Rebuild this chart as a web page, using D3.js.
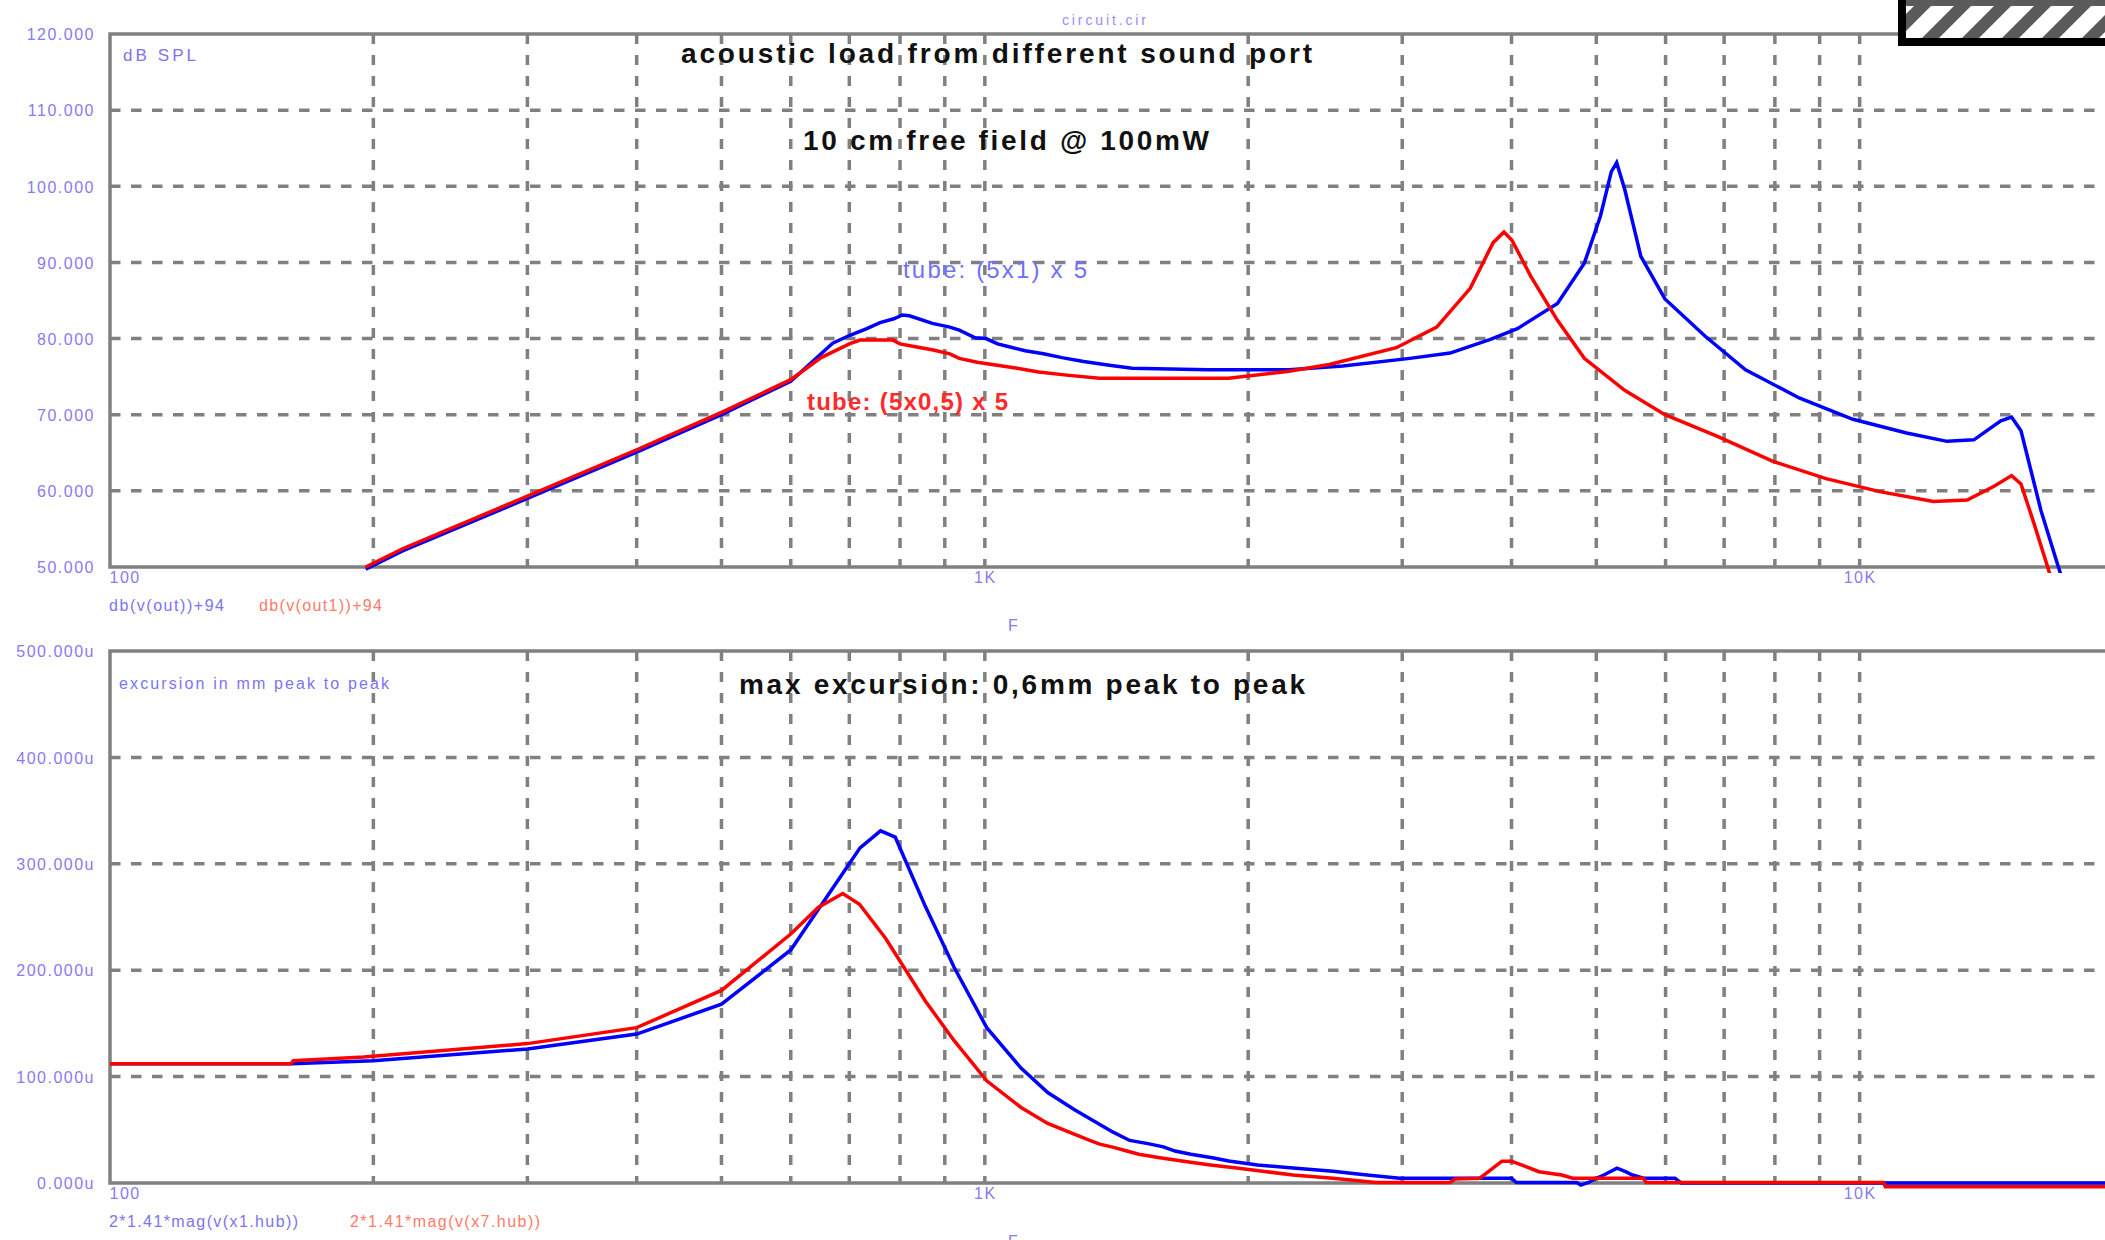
<!DOCTYPE html>
<html>
<head>
<meta charset="utf-8">
<script src="https://cdnjs.cloudflare.com/ajax/libs/d3/7.8.5/d3.min.js"></script>
<style>
body { margin: 0; background: #fff; }
svg { display: block; font-family: "Liberation Sans", Arial, sans-serif; }
</style>
</head>
<body>
<div id="chart"></div>
<script>
// frequency axis (shared)
var freqTicks = [100, 1000, 10000, 20000];
var freqTickLabels = ["100", "1K", "10K", "20K"];
var freqGrid = [200, 300, 400, 500, 600, 700, 800, 900, 1000, 2000, 3000, 4000, 5000, 6000, 7000, 8000, 9000, 10000];

// top plot: dB SPL
var splTicks = [50, 60, 70, 80, 90, 100, 110, 120];
// [Hz, dB]  tube (5x1) x 5
var splTube1 = [[196,49.7],[216,52.1],[300,59.0],[400,65.1],[500,70.0],[600,74.4],[670,79.4],[700,80.4],[733,81.3],[759,82.1],[787,82.6],[805,83.1],[820,83.0],[871,82.0],[912,81.5],[935,81.1],[975,80.1],[1003,80.0],[1034,79.3],[1077,78.8],[1112,78.4],[1167,78.0],[1225,77.5],[1297,77.0],[1388,76.5],[1473,76.1],[1800,75.9],[2227,75.9],[2565,76.4],[3061,77.4],[3403,78.1],[3784,79.9],[4062,81.3],[4514,84.6],[4845,89.9],[5055,96.1],[5201,101.9],[5275,103.1],[5388,99.6],[5622,90.8],[5990,85.2],[6660,80.3],[7405,75.9],[8529,72.2],[9824,69.4],[11315,67.6],[12584,66.5],[13507,66.7],[14500,69.2],[14916,69.7],[15290,67.9],[16117,57.4],[16872,50.0],[17200,47.0]];
// tube (5x0,5) x 5
var splTube05 = [[196,50.0],[216,52.4],[300,59.3],[400,65.4],[500,70.3],[600,74.6],[650,77.5],[700,79.3],[720,79.8],[785,79.8],[800,79.3],[836,78.9],[873,78.5],[912,78.0],[935,77.4],[980,76.9],[1033,76.5],[1089,76.1],[1152,75.6],[1240,75.2],[1352,74.8],[1473,74.8],[1899,74.8],[2227,75.7],[2476,76.6],[2954,78.8],[3285,81.5],[3588,86.6],[3811,92.6],[3921,94.0],[4005,92.9],[4207,88.2],[4514,82.4],[4845,77.4],[5388,73.2],[5990,70.0],[6900,67.1],[7947,63.9],[9154,61.6],[10544,59.9],[12145,58.6],[13270,58.8],[14244,60.6],[14916,62.0],[15290,60.9],[15835,55.6],[16403,50.0],[16700,47.0]];

// bottom plot: excursion (u)
var excTicks = [0, 100, 200, 300, 400, 500];
var excX1 = [[100,112],[161,112],[200,115],[300,126],[400,140],[500,168],[600,219],[670,277],[720,315],[760,331],[790,325],[855,260],[922,203],[1005,146],[1100,108],[1180,85],[1265,69],[1400,48],[1464,40],[1536,37],[1600,34],[1650,30],[1720,27],[1820,23.7],[1900,20.6],[2050,17],[2250,14],[2500,11],[2700,8],[2980,4.5],[3400,4.5],[4000,4.5],[4050,0.5],[4750,0.5],[4800,-2],[4900,0.5],[5000,4.5],[5100,7.5],[5280,14],[5400,10.6],[5500,7.5],[5660,4.5],[6150,4.5],[6250,0],[20000,0]];
var excX7 = [[100,112],[161,112],[162,115],[195,118.5],[300,131],[400,146],[500,181],[600,234],[645,259],[688,272],[719,262],[770,230],[855,171],[922,134],[1005,96],[1100,71],[1180,56],[1265,46],[1318,40],[1353,36.5],[1400,33.7],[1450,30.3],[1500,27],[1585,23.7],[1680,20.6],[1810,17],[1940,14],[2100,10.6],[2250,7.5],[2500,4.5],[2800,0.5],[3400,0.5],[3450,3.7],[3680,4.5],[3900,20.5],[4000,20.5],[4300,10.6],[4565,7.5],[4700,4.5],[5660,4.5],[5700,0.5],[10650,0.5],[10700,-3.5],[20000,-3.5]];

var W = 2105, H = 1240;
var gridColor = "#808080";
var tickColor = "#8a7af0";

var svg = d3.select("#chart").append("svg")
	.attr("width", W)
	.attr("height", H);

// hatch pattern for the box in the corner
var defs = svg.append("defs");
var pat = defs.append("pattern")
	.attr("id", "hatch")
	.attr("patternUnits", "userSpaceOnUse")
	.attr("width", 40).attr("height", 40);
pat.append("rect").attr("width", 40).attr("height", 40).attr("fill", "#fff");
pat.append("path")
	.attr("d", "M0,0L17,0L0,17Z M40,0L0,40L17,40L40,17Z")
	.attr("fill", "#5a5a5a");

var x = d3.scaleLog().domain([100, 20000]).range([110, 2123]);

function drawPlot(opts) {
	var y = d3.scaleLinear().domain(opts.domain).range([opts.bottom, opts.top]);
	var g = svg.append("g");

	defs.append("clipPath").attr("id", opts.id + "-clip")
		.append("rect")
		.attr("x", 108).attr("y", opts.top - 2)
		.attr("width", 2020).attr("height", opts.bottom - opts.top + 8);

	// horizontal grid
	g.append("g").selectAll("line")
		.data(opts.ticks.slice(1, -1))
		.enter().append("line")
		.attr("x1", 110).attr("x2", 2123)
		.attr("y1", function(d) { return y(d); })
		.attr("y2", function(d) { return y(d); })
		.attr("stroke", gridColor)
		.attr("stroke-width", 3.5)
		.attr("stroke-dasharray", "10.5,10.5");

	// vertical grid
	g.append("g").selectAll("line")
		.data(freqGrid)
		.enter().append("line")
		.attr("x1", function(d) { return x(d); })
		.attr("x2", function(d) { return x(d); })
		.attr("y1", opts.top).attr("y2", opts.bottom)
		.attr("stroke", gridColor)
		.attr("stroke-width", 3.5)
		.attr("stroke-dasharray", "10,11");

	// frame: top, left, bottom
	g.append("path")
		.attr("d", "M2123," + opts.top + "H110V" + opts.bottom + "H2123")
		.attr("fill", "none")
		.attr("stroke", gridColor)
		.attr("stroke-width", 3.5);

	// y axis labels
	var yAxis = g.append("g")
		.attr("transform", "translate(98,0)")
		.call(d3.axisLeft(y).tickValues(opts.ticks).tickSize(0).tickPadding(3)
			.tickFormat(function(d) { return d3.format(".3f")(d) + opts.suffix; }));
	yAxis.select(".domain").remove();
	yAxis.selectAll("text")
		.attr("fill", tickColor)
		.style("font-size", "16px")
		.style("letter-spacing", "1.5px")
		.attr("dy", "0.36em");

	// x axis labels
	var xAxis = g.append("g")
		.attr("transform", "translate(0," + opts.bottom + ")")
		.call(d3.axisBottom(x).tickValues(freqTicks).tickSize(0).tickPadding(5)
			.tickFormat(function(d, i) { return freqTickLabels[i]; }));
	xAxis.select(".domain").remove();
	xAxis.selectAll("text")
		.attr("fill", tickColor)
		.style("font-size", "16px")
		.style("letter-spacing", "1.5px")
		.filter(function(d) { return d === 100; })
		.attr("text-anchor", "start")
		.attr("x", -1);

	// curves
	var line = d3.line()
		.x(function(d) { return x(d[0]); })
		.y(function(d) { return y(d[1]); });

	var curves = g.append("g").attr("clip-path", "url(#" + opts.id + "-clip)");
	opts.series.forEach(function(s) {
		curves.append("path")
			.datum(s.data)
			.attr("d", line)
			.attr("fill", "none")
			.attr("stroke", s.color)
			.attr("stroke-width", 3.5)
			.attr("stroke-linejoin", "miter");
	});

	// legend under the axis
	opts.series.forEach(function(s) {
		g.append("text")
			.attr("x", s.legendX).attr("y", opts.bottom + 44)
			.attr("fill", s.legendColor)
			.attr("textLength", s.legendLen)
			.attr("lengthAdjust", "spacing")
			.style("font-size", "16px")
			.text(s.legend);
	});

	g.append("text")
		.attr("x", 1013).attr("y", opts.bottom + 64)
		.attr("text-anchor", "middle")
		.attr("fill", tickColor)
		.style("font-size", "16px")
		.text("F");

	return g;
}

var top = drawPlot({
	id: "spl", domain: [50, 120], top: 34, bottom: 567,
	ticks: splTicks, suffix: "",
	series: [
		{ data: splTube1, color: "#0000ff", legend: "db(v(out))+94", legendX: 109, legendLen: 115, legendColor: "#7c74f0" },
		{ data: splTube05, color: "#ff0000", legend: "db(v(out1))+94", legendX: 259, legendLen: 123, legendColor: "#ff7a6a" }
	]
});

var bot = drawPlot({
	id: "exc", domain: [0, 500], top: 651, bottom: 1183,
	ticks: excTicks, suffix: "u",
	series: [
		{ data: excX1, color: "#0000ff", legend: "2*1.41*mag(v(x1.hub))", legendX: 109, legendLen: 189, legendColor: "#7c74f0" },
		{ data: excX7, color: "#ff0000", legend: "2*1.41*mag(v(x7.hub))", legendX: 350, legendLen: 190, legendColor: "#ff7a6a" }
	]
});

// texts
function label(t, xPos, yPos, size, len, color, weight) {
	svg.append("text")
		.attr("x", xPos).attr("y", yPos)
		.attr("fill", color)
		.attr("textLength", len)
		.attr("lengthAdjust", "spacing")
		.style("font-size", size + "px")
		.style("font-weight", weight || "normal")
		.text(t);
}

label("circuit.cir", 1062, 25, 14, 84, "#9a8cf4");
label("dB SPL", 123, 61, 17, 73, "#7c74f0");
label("excursion in mm peak to peak", 119, 689, 16, 270, "#7c74f0");
label("acoustic load from different sound port", 681, 63, 28, 631, "#111", "bold");
label("10 cm free field @ 100mW", 803, 150, 28, 406, "#111", "bold");
label("max excursion: 0,6mm peak to peak", 739, 694, 28, 566, "#111", "bold");
label("tube: (5x1) x 5", 903, 278, 24, 184, "#7070ff");
label("tube: (5x0,5) x 5", 807, 410, 24, 201, "#ff2a2a", "bold");

// hatched box, top right
svg.append("rect")
	.attr("x", 1898).attr("y", -10)
	.attr("width", 240).attr("height", 56)
	.attr("fill", "#000");
svg.append("rect")
	.attr("x", 1906).attr("y", 0)
	.attr("width", 240).attr("height", 38)
	.attr("fill", "url(#hatch)");
svg.append("rect")
	.attr("x", 1906).attr("y", 0)
	.attr("width", 240).attr("height", 6)
	.attr("fill", "#5a5a5a");
</script>
</body>
</html>
